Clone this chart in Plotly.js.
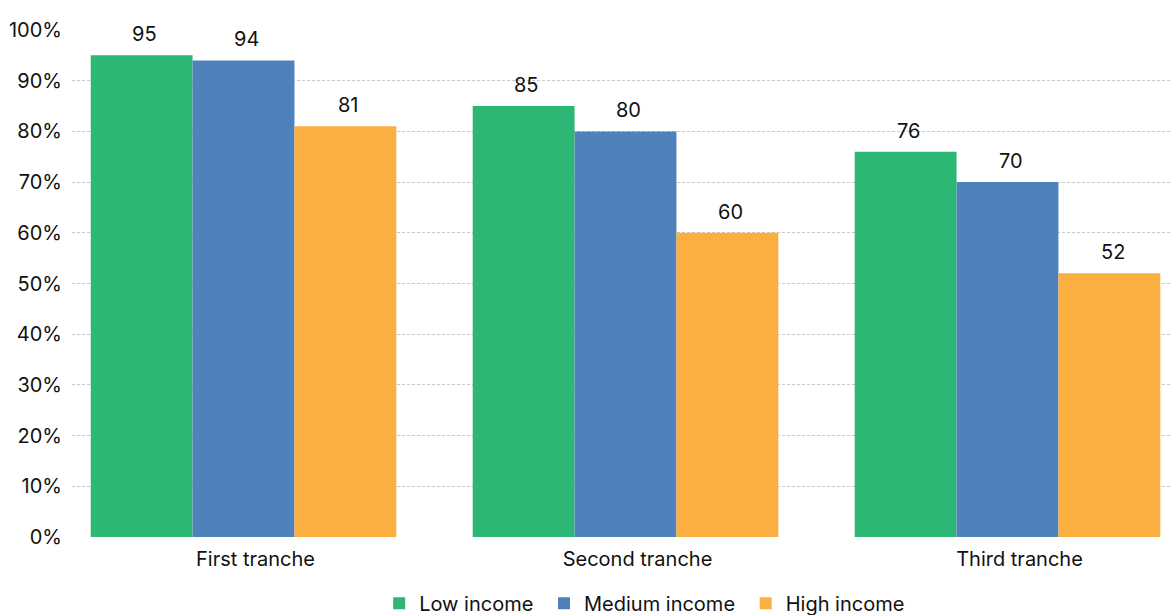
<!DOCTYPE html>
<html>
<head>
<meta charset="utf-8">
<script src="https://cdn.plot.ly/plotly-3.0.1.min.js"></script>
<style>
  html, body { margin: 0; padding: 0; background: #fff; }
  #chart { width: 1171px; height: 615px; }
</style>
</head>
<body>
<div id="chart"></div>
<script>
// Share of each income group by tranche (percent)
const tranches = ["First tranche", "Second tranche", "Third tranche"];
const lowIncome = [95, 85, 76];
const mediumIncome = [94, 80, 70];
const highIncome = [81, 60, 52];
const seriesNames = ["Low income", "Medium income", "High income"];
const seriesColors = ["#2DB775", "#4F81BD", "#FBAF41"];
const yTicks = [0, 10, 20, 30, 40, 50, 60, 70, 80, 90, 100];
const yTickLabels = yTicks.map(v => v + "%");

const seriesValues = [lowIncome, mediumIncome, highIncome];
const FONT = "Inter, 'Noto Sans', sans-serif";

const traces = seriesValues.map((vals, i) => ({
  type: "bar",
  // trailing space widens the gap between legend entries
  name: seriesNames[i] + "\u00a0",
  x: tranches,
  y: vals,
  marker: { color: seriesColors[i], line: { width: 0 } },
  hoverinfo: "x+y+name"
}));

// value labels above each bar, offset horizontally to sit over its bar in the group
const groupSlot = 102;
const annotations = [];
seriesValues.forEach((vals, i) => {
  vals.forEach((v, j) => {
    annotations.push({
      x: tranches[j], y: v, xref: "x", yref: "y",
      text: String(v), showarrow: false,
      xshift: (i - 1) * groupSlot + 3, yshift: 7,
      yanchor: "bottom", xanchor: "center",
      font: { family: FONT, size: 20, color: "#111" }
    });
  });
});

const layout = {
  width: 1171, height: 615,
  margin: { l: 72, r: 0, t: 30, b: 78, autoexpand: false },
  paper_bgcolor: "#fff", plot_bgcolor: "#fff",
  barmode: "group",
  bargap: 0.2, bargroupgap: 0,
  font: { family: FONT, size: 20, color: "#111" },
  xaxis: {
    type: "category",
    range: [-0.449, 2.428],
    showgrid: false, zeroline: false, showline: false,
    ticks: "", ticklabelstandoff: 8, ticklabelshift: 12,
    tickfont: { family: FONT, size: 20, color: "#111" }
  },
  yaxis: {
    range: [0, 100],
    tickvals: yTicks, ticktext: yTickLabels,
    showgrid: true, gridcolor: "#c9c9c9", gridwidth: 1, griddash: "3px,2px",
    zeroline: false, showline: false, ticks: "",
    ticklabelstandoff: 9,
    tickfont: { family: FONT, size: 20, color: "#111" }
  },
  showlegend: true,
  legend: {
    orientation: "h", x: 0.2795, xanchor: "left",
    yref: "container", y: 0.019, yanchor: "middle",
    font: { family: FONT, size: 20, color: "#111" },
    itemwidth: 30, tracegroupgap: 0, traceorder: "normal"
  },
  annotations: annotations
};

Plotly.newPlot("chart", traces, layout, { displayModeBar: false, staticPlot: true });
</script>
</body>
</html>
